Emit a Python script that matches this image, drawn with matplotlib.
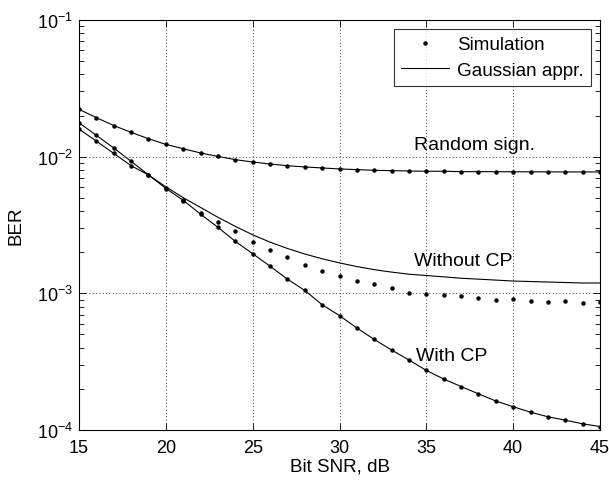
import numpy as np
import matplotlib
matplotlib.use("Agg")
import matplotlib.pyplot as plt
from matplotlib.ticker import LogLocator, NullFormatter

plt.rcParams['font.family'] = ['Liberation Sans', 'DejaVu Sans']
plt.rcParams['mathtext.fontset'] = 'custom'
plt.rcParams['mathtext.rm'] = 'Liberation Sans'
plt.rcParams['mathtext.it'] = 'Liberation Sans'

snr = np.arange(15, 46)

# Simulation points
sim_random = [0.0222, 0.0193, 0.0169, 0.01506, 0.01353, 0.0123, 0.01144, 0.01064,
              0.01004, 0.00951, 0.00914, 0.00884, 0.00859, 0.00841, 0.00827, 0.00813,
              0.00804, 0.00795, 0.0079, 0.00786, 0.00782, 0.00782, 0.00777, 0.00777,
              0.00776, 0.00775, 0.00775, 0.00774, 0.00773, 0.00773, 0.00773]
sim_nocp = [0.0159, 0.0130, 0.01057, 0.00859, 0.00735, 0.00584, 0.00474, 0.0039,
            0.00334, 0.00284, 0.00237, 0.00206, 0.00184, 0.0016, 0.00146, 0.00133,
            0.00123, 0.00117, 0.00109, 0.00101, 0.000995, 0.000972, 0.000957, 0.00092,
            0.0009, 0.000904, 0.000875, 0.000865, 0.000875, 0.000849, 0.00087]
sim_cp = [0.0177, 0.01433, 0.01157, 0.00925, 0.00735, 0.00586, 0.00479, 0.0038,
          0.00304, 0.0024, 0.00195, 0.00158, 0.00127, 0.00105, 0.000826, 0.000687,
          0.000558, 0.00046, 0.000385, 0.000325, 0.000273, 0.000236, 0.000208, 0.000184,
          0.000163, 0.000148, 0.000135, 0.000125, 0.000118, 0.000111, 0.000106]

# Gaussian approximation
gau_random = sim_random
gau_nocp = [0.0159, 0.0130, 0.01057, 0.00859, 0.00735, 0.00602, 0.00501, 0.00425,
            0.0036, 0.00309, 0.00268, 0.00237, 0.00213, 0.00194, 0.00179, 0.00167,
            0.00157, 0.00149, 0.00143, 0.00138, 0.00135, 0.00132, 0.00129, 0.00127,
            0.00125, 0.00123, 0.00122, 0.00121, 0.0012, 0.00119, 0.00119]
gau_cp = sim_cp

fig = plt.figure(figsize=(6.09, 4.81), dpi=100)
ax = fig.add_axes([79 / 609, 50 / 481, 521 / 609, 410 / 481])

for g in (gau_random, gau_nocp, gau_cp):
    ax.plot(snr, g, color='black', lw=0.8)
for s in (sim_random, sim_nocp, sim_cp):
    ax.plot(snr, s, linestyle='none', marker='o', markersize=2.2, color='black')

ax.plot([], [], linestyle='none', marker='o', markersize=2.2, color='black', label='Simulation')
ax.plot([], [], color='black', lw=0.8, label='Gaussian appr.')

ax.set_yscale('log')
ax.set_xlim(15, 45)
ax.set_ylim(1e-4, 1e-1)
ax.set_xticks([15, 20, 25, 30, 35, 40, 45])
ax.yaxis.set_major_locator(LogLocator(base=10, numticks=10))
ax.yaxis.set_minor_locator(LogLocator(base=10, subs=np.arange(2, 10), numticks=10))
ax.yaxis.set_minor_formatter(NullFormatter())

ax.tick_params(which='both', direction='in', top=True, right=True, labelsize=13, width=0.6)
ax.tick_params(which='major', length=5)
ax.tick_params(which='minor', length=3.5)
ax.tick_params(axis='x', pad=6.5)
ax.tick_params(axis='y', pad=4)
ax.grid(True, which='major', color='black', linestyle=(0, (1, 3)), lw=0.6)
for sp in ax.spines.values():
    sp.set_linewidth(0.8)

ax.set_xlabel('Bit SNR, dB', fontsize=13.6, labelpad=1)
ax.set_ylabel('BER', fontsize=13.6, labelpad=9)

ax.text(34.3, 0.0123, 'Random sign.', fontsize=14, va='center')
ax.text(34.3, 0.00174, 'Without CP', fontsize=14, va='center')
ax.text(34.4, 0.000352, 'With CP', fontsize=14, va='center')

leg = ax.legend(loc='upper right', fontsize=13.6, frameon=True, fancybox=False,
                edgecolor='black', borderpad=0.35, handlelength=2.55,
                handletextpad=0.45, labelspacing=0.45, borderaxespad=0.5)
leg.get_frame().set_linewidth(0.8)

fig.savefig('out.png', dpi=100)
